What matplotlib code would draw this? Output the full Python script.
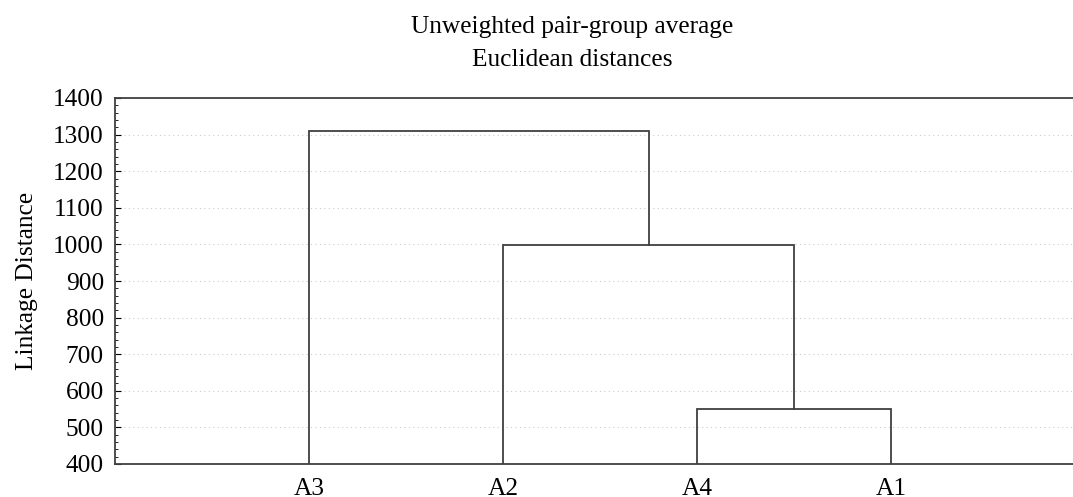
import matplotlib
matplotlib.use("Agg")
import matplotlib.pyplot as plt
from matplotlib.ticker import MultipleLocator

plt.rcParams['font.family'] = ['Liberation Serif', 'DejaVu Serif']

# leaves in dendrogram order
leaves = ["A3", "A2", "A4", "A1"]
# merges: (left cluster, right cluster, linkage distance)
merges = [("A4", "A1", 550), ("A2", "A4+A1", 997), ("A3", "A2+A4+A1", 1310)]
y_ticks = [400, 500, 600, 700, 800, 900, 1000, 1100, 1200, 1300, 1400]

fig = plt.figure(figsize=(10.73, 4.97), dpi=100)
ax = fig.add_axes([115 / 1073, 33 / 497, 970 / 1073, 366 / 497])

base = y_ticks[0]
pos = {name: i + 1 for i, name in enumerate(leaves)}
height = {name: base for name in leaves}
col = "#404040"
for a, b, d in merges:
    xa, xb = pos[a], pos[b]
    ax.plot([xa, xa, xb, xb], [height[a], d, d, height[b]], color=col, lw=1.3,
            solid_joinstyle="miter", zorder=3)
    name = a + "+" + b
    pos[name] = (xa + xb) / 2
    height[name] = d

ax.set_xlim(0, 5)
ax.set_ylim(400, 1400)
ax.set_yticks(y_ticks)
ax.yaxis.set_minor_locator(MultipleLocator(20))
ax.set_xticks(range(1, len(leaves) + 1))
ax.set_xticklabels(leaves)
ax.tick_params(axis="x", length=0, labelsize=18.3, pad=10)
ax.tick_params(axis="y", which="major", direction="in", length=4, labelsize=18.3, pad=8)
ax.tick_params(axis="y", which="minor", direction="in", length=2.5)
ax.grid(axis="y", which="major", linestyle=(0, (1, 3)), color="#cccccc", lw=0.8)
ax.set_axisbelow(True)
ax.spines["right"].set_visible(False)
for s in ["left", "top", "bottom"]:
    ax.spines[s].set_color(col)
    ax.spines[s].set_linewidth(1.3)

ax.set_ylabel("Linkage Distance", fontsize=18.3, labelpad=11)
fig.text(572 / 1073, 1 - 27 / 497, "Unweighted pair-group average", ha="center", va="center", fontsize=18.3)
fig.text(572 / 1073, 1 - 60 / 497, "Euclidean distances", ha="center", va="center", fontsize=18.3)

fig.savefig("out.png", dpi=100)
